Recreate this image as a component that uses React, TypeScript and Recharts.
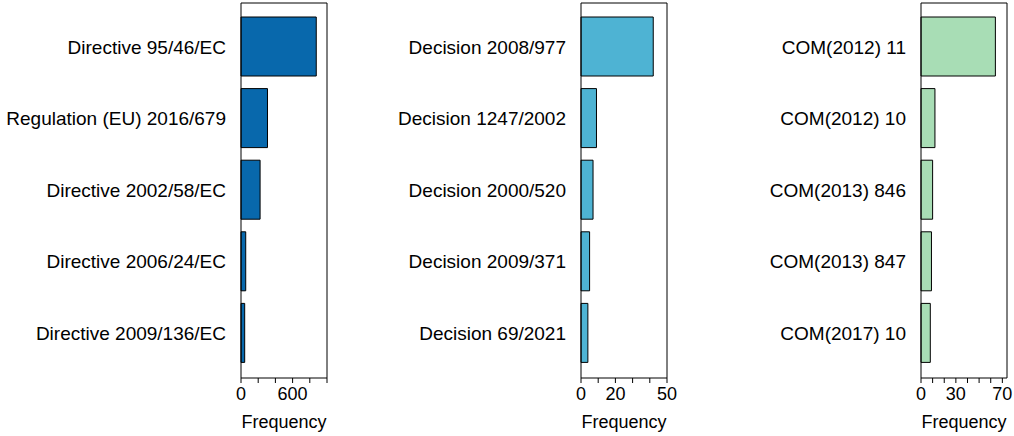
import { BarChart, Bar, XAxis, YAxis } from "recharts";

const directiveNames = [
  "Directive 95/46/EC",
  "Regulation (EU) 2016/679",
  "Directive 2002/58/EC",
  "Directive 2006/24/EC",
  "Directive 2009/136/EC",
];
const directiveCounts = [875, 308, 222, 55, 43];
const directiveTicks = [0, 200, 400, 600, 800, 1000];
const directiveTickLabels = [0, 600];
const directiveMax = 1000;

const decisionNames = [
  "Decision 2008/977",
  "Decision 1247/2002",
  "Decision 2000/520",
  "Decision 2009/371",
  "Decision 69/2021",
];
const decisionCounts = [42, 9, 7, 5, 4];
const decisionTicks = [0, 10, 20, 30, 40, 50];
const decisionTickLabels = [0, 20, 50];
const decisionMax = 50;

const comNames = [
  "COM(2012) 11",
  "COM(2012) 10",
  "COM(2013) 846",
  "COM(2013) 847",
  "COM(2017) 10",
];
const comCounts = [64, 12, 10, 9, 8];
const comTicks = [0, 10, 20, 30, 40, 50, 60, 70];
const comTickLabels = [0, 30, 70];
const comMax = 74;

const FONT = "'Liberation Sans', Arial, Helvetica, sans-serif";

type PanelProps = {
  names: string[];
  counts: number[];
  ticks: number[];
  tickLabels: number[];
  max: number;
  color: string;
  left: number;
};

function Panel({ names, counts, ticks, tickLabels, max, color, left }: PanelProps) {
  const data = names.map((name, i) => ({ name, value: counts[i] }));
  return (
    <div style={{ position: "absolute", left, top: 0 }}>
      <BarChart
        width={340}
        height={436}
        data={data}
        layout="vertical"
        margin={{ top: 2, right: 12, left: 0, bottom: 0 }}
      >
        <XAxis
          type="number"
          domain={[0, max]}
          ticks={ticks}
          interval={0}
          height={58}
          stroke="#000"
          tickSize={5}
          tickMargin={4}
          tick={{ fill: "#000", fontSize: 18 }}
          tickFormatter={(v: number) => (tickLabels.includes(v) ? String(v) : "")}
          label={{ value: "Frequency", position: "insideBottom", offset: 8, fill: "#000", fontSize: 18 }}
        />
        <XAxis
          xAxisId="top"
          orientation="top"
          type="number"
          domain={[0, max]}
          height={1}
          stroke="#000"
          tick={false}
          tickLine={false}
        />
        <YAxis
          type="category"
          dataKey="name"
          width={241}
          stroke="#000"
          tickLine={false}
          tickSize={0}
          tickMargin={15}
          interval={0}
          padding={{ top: 8, bottom: 9 }}
          tick={{ fill: "#000", fontSize: 19 }}
        />
        <YAxis
          yAxisId="right"
          orientation="right"
          type="category"
          dataKey="name"
          width={1}
          stroke="#000"
          tick={false}
          tickLine={false}
        />
        <Bar dataKey="value" fill={color} stroke="#000" strokeWidth={1} barSize={59} isAnimationActive={false} />
      </BarChart>
    </div>
  );
}

export default function App() {
  return (
    <div
      style={{
        position: "absolute",
        left: 0,
        top: 0,
        width: 1014,
        height: 436,
        overflow: "hidden",
        fontFamily: FONT,
        background: "#fff",
      }}
    >
      <Panel names={directiveNames} counts={directiveCounts} ticks={directiveTicks} tickLabels={directiveTickLabels} max={directiveMax} color="#0868AC" left={0} />
      <Panel names={decisionNames} counts={decisionCounts} ticks={decisionTicks} tickLabels={decisionTickLabels} max={decisionMax} color="#4EB3D3" left={340} />
      <Panel names={comNames} counts={comCounts} ticks={comTicks} tickLabels={comTickLabels} max={comMax} color="#A8DDB5" left={680} />
    </div>
  );
}
